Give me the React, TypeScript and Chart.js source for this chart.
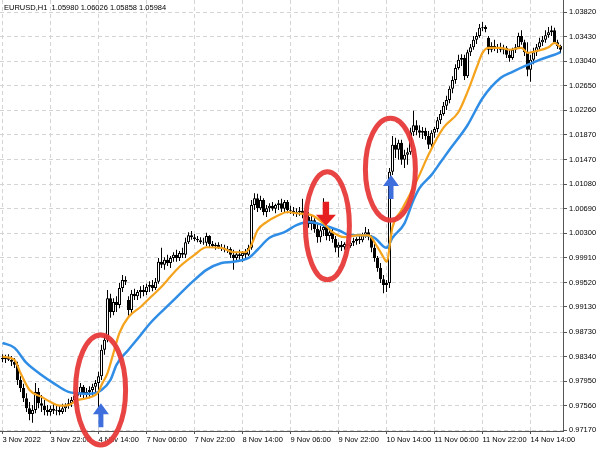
import React, { useEffect, useRef } from "react";
import { Chart, registerables } from "chart.js";

Chart.register(...registerables);

// ---------- data (EURUSD H1 candles, bar index 0 = 3 Nov 06:00) ----------
const opens = [
  0.9832, 0.9830, 0.9833, 0.9829, 0.9826, 0.9821, 0.9797, 0.9784, 0.9768, 0.9752,
  0.9743, 0.9749, 0.9778, 0.9760, 0.9756, 0.9749, 0.9746, 0.9751, 0.9748, 0.9749,
  0.9746, 0.9752, 0.9756, 0.9760, 0.9765, 0.9772, 0.9776, 0.9786, 0.9775, 0.9778,
  0.9781, 0.9786, 0.9792, 0.9803, 0.9845, 0.9861, 0.9927, 0.9905, 0.9921, 0.9916,
  0.9943, 0.9956, 0.9924, 0.9908, 0.9934, 0.9930, 0.9937, 0.9940, 0.9937, 0.9945,
  0.9948, 0.9943, 0.9953, 0.9985, 0.9980, 0.9988, 0.9983, 0.9991, 0.9996, 0.9991,
  0.9999, 0.9996, 1.0016, 1.0027, 1.0024, 1.0021, 1.0019, 1.0016, 1.0015, 1.0026,
  1.0013, 1.0010, 1.0012, 1.0008, 1.0007, 1.0004, 1.0005, 0.9996, 0.9991, 0.9997,
  0.9994, 0.9999, 0.9996, 1.0007, 1.0075, 1.0086, 1.0070, 1.0083, 1.0064, 1.0070,
  1.0074, 1.0069, 1.0075, 1.0078, 1.0069, 1.0080, 1.0067, 1.0066, 1.0062, 1.0064,
  1.0066, 1.0061, 1.0056, 1.0045, 1.0051, 1.0037, 1.0024, 1.0035, 1.0040, 1.0026,
  1.0032, 1.0021, 1.0007, 1.0012, 1.0008, 1.0013, 1.0010, 1.0015, 1.0018, 1.0021,
  1.0019, 1.0027, 1.0032, 1.0024, 1.0007, 0.9991, 0.9975, 0.9957, 0.9948, 0.9951,
  1.0128, 1.0171, 1.0163, 1.0174, 1.0147, 1.0155, 1.0159, 1.0191, 1.0202, 1.0194,
  1.0190, 1.0193, 1.0185, 1.0171, 1.0190, 1.0196, 1.0210, 1.0220, 1.0233, 1.0242,
  1.0260, 1.0274, 1.0293, 1.0306, 1.0309, 1.0280, 1.0318, 1.0326, 1.0338, 1.0344,
  1.0357, 1.0358, 1.0341, 1.0322, 1.0328, 1.0323, 1.0326, 1.0322, 1.0325, 1.0314,
  1.0309, 1.0322, 1.0326, 1.0344, 1.0334, 1.0318, 1.0290, 1.0306, 1.0318, 1.0326,
  1.0334, 1.0338, 1.0345, 1.0350, 1.0353, 1.0334, 1.0328,
];
const highs = [
  0.9838, 0.9837, 0.9838, 0.9835, 0.9832, 0.9826, 0.9803, 0.9791, 0.9776, 0.9762,
  0.9757, 0.9792, 0.9784, 0.9773, 0.9765, 0.9757, 0.9756, 0.9759, 0.9756, 0.9757,
  0.9759, 0.9760, 0.9767, 0.9770, 0.9776, 0.9781, 0.9792, 0.9789, 0.9784, 0.9787,
  0.9791, 0.9797, 0.9810, 0.9853, 0.9868, 0.9940, 0.9934, 0.9927, 0.9930, 0.9951,
  0.9964, 0.9962, 0.9930, 0.9940, 0.9942, 0.9940, 0.9946, 0.9948, 0.9950, 0.9954,
  0.9956, 0.9959, 0.9991, 1.0007, 0.9992, 0.9996, 0.9994, 1.0000, 1.0004, 1.0002,
  1.0007, 1.0023, 1.0032, 1.0034, 1.0029, 1.0026, 1.0024, 1.0023, 1.0031, 1.0027,
  1.0018, 1.0015, 1.0016, 1.0013, 1.0012, 1.0010, 1.0008, 1.0004, 1.0000, 1.0004,
  1.0002, 1.0005, 1.0012, 1.0083, 1.0094, 1.0093, 1.0090, 1.0086, 1.0075, 1.0078,
  1.0080, 1.0077, 1.0083, 1.0085, 1.0083, 1.0083, 1.0074, 1.0072, 1.0070, 1.0072,
  1.0085, 1.0067, 1.0064, 1.0058, 1.0054, 1.0045, 1.0042, 1.0086, 1.0048, 1.0039,
  1.0037, 1.0026, 1.0016, 1.0018, 1.0016, 1.0019, 1.0019, 1.0023, 1.0024, 1.0026,
  1.0031, 1.0040, 1.0037, 1.0027, 1.0013, 0.9994, 0.9983, 0.9964, 0.9956, 1.0134,
  1.0185, 1.0182, 1.0179, 1.0179, 1.0163, 1.0166, 1.0198, 1.0225, 1.0210, 1.0202,
  1.0199, 1.0198, 1.0193, 1.0194, 1.0199, 1.0215, 1.0226, 1.0239, 1.0249, 1.0264,
  1.0280, 1.0299, 1.0314, 1.0315, 1.0314, 1.0322, 1.0331, 1.0344, 1.0350, 1.0363,
  1.0366, 1.0361, 1.0344, 1.0334, 1.0338, 1.0331, 1.0333, 1.0330, 1.0328, 1.0322,
  1.0325, 1.0331, 1.0349, 1.0353, 1.0338, 1.0334, 1.0314, 1.0325, 1.0331, 1.0341,
  1.0344, 1.0353, 1.0358, 1.0360, 1.0357, 1.0338, 1.0330,
];
const lows = [
  0.9825, 0.9824, 0.9827, 0.9819, 0.9816, 0.9789, 0.9778, 0.9762, 0.9746, 0.9733,
  0.9729, 0.9744, 0.9752, 0.9746, 0.9741, 0.9740, 0.9740, 0.9743, 0.9741, 0.9741,
  0.9743, 0.9746, 0.9751, 0.9754, 0.9760, 0.9765, 0.9770, 0.9768, 0.9767, 0.9768,
  0.9772, 0.9778, 0.9754, 0.9797, 0.9837, 0.9857, 0.9896, 0.9900, 0.9905, 0.9911,
  0.9937, 0.9948, 0.9899, 0.9903, 0.9924, 0.9924, 0.9927, 0.9930, 0.9932, 0.9937,
  0.9938, 0.9940, 0.9950, 0.9975, 0.9972, 0.9978, 0.9975, 0.9985, 0.9985, 0.9986,
  0.9991, 0.9991, 1.0013, 1.0020, 1.0018, 1.0016, 1.0013, 1.0012, 1.0010, 1.0008,
  1.0007, 1.0004, 1.0005, 1.0002, 1.0000, 0.9999, 0.9991, 0.9972, 0.9985, 0.9988,
  0.9985, 0.9991, 0.9994, 1.0004, 1.0067, 1.0064, 1.0067, 1.0059, 1.0056, 1.0064,
  1.0066, 1.0062, 1.0067, 1.0064, 1.0064, 1.0062, 1.0061, 1.0058, 1.0056, 1.0058,
  1.0054, 1.0051, 1.0039, 1.0035, 1.0031, 1.0015, 1.0016, 1.0026, 1.0019, 1.0018,
  1.0015, 1.0000, 0.9992, 1.0002, 1.0004, 1.0005, 1.0007, 1.0010, 1.0012, 1.0013,
  1.0016, 1.0023, 1.0019, 1.0000, 0.9985, 0.9969, 0.9951, 0.9935, 0.9937, 0.9943,
  1.0123, 1.0150, 1.0147, 1.0139, 1.0134, 1.0139, 1.0155, 1.0185, 1.0186, 1.0182,
  1.0180, 1.0179, 1.0164, 1.0167, 1.0182, 1.0191, 1.0204, 1.0217, 1.0226, 1.0237,
  1.0253, 1.0268, 1.0290, 1.0296, 1.0274, 1.0277, 1.0312, 1.0322, 1.0331, 1.0341,
  1.0352, 1.0350, 1.0315, 1.0318, 1.0320, 1.0317, 1.0318, 1.0315, 1.0309, 1.0303,
  1.0306, 1.0317, 1.0323, 1.0330, 1.0312, 1.0280, 1.0271, 1.0299, 1.0312, 1.0322,
  1.0328, 1.0333, 1.0341, 1.0344, 1.0331, 1.0323, 1.0317,
];
const closes = [
  0.9830, 0.9833, 0.9829, 0.9826, 0.9821, 0.9797, 0.9784, 0.9768, 0.9752, 0.9743,
  0.9749, 0.9778, 0.9760, 0.9756, 0.9749, 0.9746, 0.9751, 0.9748, 0.9749, 0.9746,
  0.9752, 0.9756, 0.9760, 0.9765, 0.9772, 0.9776, 0.9786, 0.9775, 0.9778, 0.9781,
  0.9786, 0.9792, 0.9803, 0.9845, 0.9861, 0.9927, 0.9905, 0.9921, 0.9916, 0.9943,
  0.9956, 0.9953, 0.9908, 0.9934, 0.9930, 0.9937, 0.9940, 0.9937, 0.9945, 0.9948,
  0.9943, 0.9953, 0.9985, 0.9980, 0.9988, 0.9983, 0.9991, 0.9996, 0.9991, 0.9999,
  0.9996, 1.0016, 1.0027, 1.0024, 1.0021, 1.0019, 1.0016, 1.0015, 1.0026, 1.0013,
  1.0010, 1.0012, 1.0008, 1.0007, 1.0004, 1.0005, 0.9996, 0.9991, 0.9997, 0.9994,
  0.9999, 0.9996, 1.0007, 1.0075, 1.0086, 1.0070, 1.0083, 1.0064, 1.0070, 1.0074,
  1.0069, 1.0075, 1.0078, 1.0069, 1.0080, 1.0067, 1.0066, 1.0062, 1.0064, 1.0066,
  1.0061, 1.0056, 1.0045, 1.0051, 1.0037, 1.0024, 1.0035, 1.0040, 1.0026, 1.0032,
  1.0021, 1.0007, 1.0012, 1.0008, 1.0013, 1.0010, 1.0015, 1.0018, 1.0021, 1.0019,
  1.0027, 1.0032, 1.0024, 1.0007, 0.9991, 0.9975, 0.9957, 0.9948, 0.9951, 1.0128,
  1.0171, 1.0163, 1.0174, 1.0147, 1.0155, 1.0159, 1.0191, 1.0202, 1.0194, 1.0190,
  1.0193, 1.0185, 1.0171, 1.0190, 1.0196, 1.0210, 1.0220, 1.0233, 1.0242, 1.0260,
  1.0274, 1.0293, 1.0306, 1.0309, 1.0280, 1.0318, 1.0326, 1.0338, 1.0344, 1.0357,
  1.0358, 1.0355, 1.0322, 1.0328, 1.0323, 1.0326, 1.0322, 1.0325, 1.0314, 1.0309,
  1.0322, 1.0326, 1.0344, 1.0334, 1.0318, 1.0290, 1.0306, 1.0318, 1.0326, 1.0334,
  1.0338, 1.0345, 1.0350, 1.0353, 1.0334, 1.0328, 1.0322,
];

// fast (orange) moving average, read at these bar indices
const fastMaBars = [
  0, 4, 6, 9, 13, 16, 19, 22, 25, 28, 32, 33, 35, 37, 39, 42, 46, 49, 53, 55,
  59, 64, 68, 73, 77, 81, 83, 85, 88, 92, 95, 98, 103, 107, 110, 114, 118, 122, 125, 127,
  128, 130, 133, 136, 139, 142, 147, 152, 155, 158, 160, 162, 166, 169, 173, 175, 178, 182, 184, 186,
];
const fastMaValues = [
  0.9834, 0.9829, 0.9808, 0.9781, 0.9770, 0.9762, 0.9756, 0.9757, 0.9765, 0.9768,
  0.9778, 0.9789, 0.9808, 0.9840, 0.9872, 0.9897, 0.9913, 0.9927, 0.9945, 0.9956,
  0.9977, 0.9996, 1.0008, 1.0007, 1.0000, 1.0000, 1.0012, 1.0035, 1.0048, 1.0059,
  1.0064, 1.0062, 1.0059, 1.0046, 1.0032, 1.0024, 1.0027, 1.0027, 1.0008, 0.9992,
  0.9985, 1.0040, 1.0067, 1.0094, 1.0123, 1.0155, 1.0198, 1.0223, 1.0255, 1.0293,
  1.0317, 1.0325, 1.0325, 1.0322, 1.0325, 1.0317, 1.0320, 1.0326, 1.0333, 1.0326,
];

// slow (blue) moving average
const slowMaBars = [
  0, 4, 8, 13, 17, 22, 25, 29, 33, 36, 38, 42, 46, 49, 56, 64, 68, 73, 77, 82,
  85, 89, 94, 98, 102, 107, 112, 116, 120, 124, 128, 130, 134, 137, 139, 143, 146, 149, 155, 160,
  166, 170, 175, 179, 184, 186,
];
const slowMaValues = [
  0.9856, 0.9848, 0.9824, 0.9805, 0.9792, 0.9778, 0.9776, 0.9775, 0.9781, 0.9797,
  0.9821, 0.9845, 0.9868, 0.9886, 0.9919, 0.9956, 0.9972, 0.9983, 0.9985, 0.9991,
  1.0004, 1.0023, 1.0032, 1.0043, 1.0048, 1.0043, 1.0035, 1.0027, 1.0027, 1.0023,
  1.0007, 1.0023, 1.0046, 1.0083, 1.0102, 1.0123, 1.0143, 1.0163, 1.0202, 1.0245,
  1.0277, 1.0287, 1.0298, 1.0306, 1.0314, 1.0318,
];

const xTickBars = [0, 16, 32, 48, 64, 80, 96, 112, 128, 144, 160, 176];
const xTickLabels = [
  "3 Nov 2022", "3 Nov 22:00", "4 Nov 14:00", "7 Nov 06:00", "7 Nov 22:00", "8 Nov 14:00",
  "9 Nov 06:00", "9 Nov 22:00", "10 Nov 14:00", "11 Nov 06:00", "11 Nov 22:00", "14 Nov 14:00",
];
const yTickLabels = [
  "0.97170", "0.97560", "0.97950", "0.98340", "0.98730", "0.99130", "0.99520", "0.99910", "1.00300",
  "1.00690", "1.01080", "1.01470", "1.01870", "1.02260", "1.02650", "1.03040", "1.03430", "1.03820",
];
const titleText = "EURUSD,H1  1.05980 1.06026 1.05858 1.05984";

// ---------- styling ----------
const FONT = '"Liberation Sans", Arial, sans-serif';
const ORANGE = "#f5a31c";
const BLUE = "#2f8de6";

// annotation marks (bar index / price anchors; sizes in px)
const ellipseMarks = [
  { bar: 32.7, price: 0.9781, rx: 25, ry: 55 },
  { bar: 108.3, price: 1.0042, rx: 22, ry: 54 },
  { bar: 129.3, price: 1.0132, rx: 25, ry: 51 },
];
const arrowMarks = [
  { bar: 32.8, price: 0.976, dir: "up", color: "#3f6fdc", hw: 8, sw: 2.5 },
  { bar: 107.8, price: 1.0042, dir: "down", color: "#e51f1f", hw: 10, sw: 3.2 },
  { bar: 129.5, price: 1.0123, dir: "up", color: "#3f6fdc", hw: 8, sw: 2.5 },
];

const overlayPlugin = {
  id: "overlay",
  beforeDraw(chart: any) {
    const ctx = chart.ctx;
    ctx.save();
    ctx.fillStyle = "#ffffff";
    ctx.fillRect(0, 0, chart.width, chart.height);
    ctx.restore();
  },
  afterDraw(chart: any) {
    const ctx = chart.ctx;
    const xs = chart.scales.x;
    const ys = chart.scales.y;
    ctx.save();
    // title
    ctx.font = `7.5px ${FONT}`;
    ctx.fillStyle = "#000";
    ctx.textBaseline = "middle";
    ctx.textAlign = "left";
    ctx.fillText(titleText, 4, 7.5);
    // ellipses
    ctx.strokeStyle = "rgba(232,58,58,0.95)";
    ctx.lineWidth = 5;
    for (const e of ellipseMarks) {
      const cx = xs.getPixelForValue(e.bar);
      const cy = ys.getPixelForValue(e.price);
      ctx.beginPath();
      ctx.ellipse(cx, cy, e.rx, e.ry, 0, 0, Math.PI * 2);
      ctx.stroke();
    }
    // arrows
    for (const a of arrowMarks) {
      const cx = xs.getPixelForValue(a.bar);
      const ty = ys.getPixelForValue(a.price);
      const s = a.dir === "up" ? 1 : -1;
      const head = 11;
      const shaft = 13;
      ctx.fillStyle = a.color;
      ctx.beginPath();
      ctx.moveTo(cx, ty);
      ctx.lineTo(cx - a.hw, ty + s * head);
      ctx.lineTo(cx - a.sw, ty + s * head);
      ctx.lineTo(cx - a.sw, ty + s * (head + shaft));
      ctx.lineTo(cx + a.sw, ty + s * (head + shaft));
      ctx.lineTo(cx + a.sw, ty + s * head);
      ctx.lineTo(cx + a.hw, ty + s * head);
      ctx.closePath();
      ctx.fill();
    }
    ctx.restore();
  },
};

export default function App() {
  const ref = useRef<HTMLCanvasElement>(null);

  useEffect(() => {
    document.body.style.margin = "0";
    const canvas = ref.current;
    if (!canvas) return;
    const idx = closes.map((_, i) => i);

    const chart = new Chart(canvas, {
      type: "bar",
      data: {
        datasets: [
          {
            type: "line",
            label: "fast",
            data: fastMaBars.map((b, k) => ({ x: b, y: fastMaValues[k] })),
            borderColor: ORANGE,
            borderWidth: 2.2,
            pointRadius: 0,
            cubicInterpolationMode: "monotone",
            order: 0,
          } as any,
          {
            type: "line",
            label: "slow",
            data: slowMaBars.map((b, k) => ({ x: b, y: slowMaValues[k] })),
            borderColor: BLUE,
            borderWidth: 2.5,
            pointRadius: 0,
            cubicInterpolationMode: "monotone",
            order: 1,
          } as any,
          {
            type: "bar",
            label: "body",
            data: idx.map((i) => ({ x: i, y: [opens[i], closes[i]] })),
            backgroundColor: (c: any) =>
              closes[c.dataIndex] >= opens[c.dataIndex] ? "#ffffff" : "#000000",
            borderColor: "#000000",
            borderWidth: 1,
            borderSkipped: false,
            barThickness: 3,
            grouped: false,
            inflateAmount: 0,
            order: 2,
          } as any,
          {
            type: "bar",
            label: "wick",
            data: idx.map((i) => ({ x: i, y: [lows[i], highs[i]] })),
            backgroundColor: "#000000",
            borderWidth: 0,
            barThickness: 1,
            grouped: false,
            inflateAmount: 0,
            order: 3,
          } as any,
        ],
      },
      options: {
        responsive: false,
        animation: false,
        layout: { padding: 0 },
        plugins: { legend: { display: false }, tooltip: { enabled: false }, title: { display: false } },
        scales: {
          x: {
            type: "linear",
            position: "bottom",
            min: -2.5 / 3,
            max: -2.5 / 3 + 563 / 3,
            offset: false,
            afterBuildTicks: (axis: any) => {
              axis.ticks = xTickBars.map((v) => ({ value: v }));
            },
            afterFit: (axis: any) => {
              axis.height = 19;
              axis.paddingLeft = 0;
              axis.paddingRight = 0;
            },
            ticks: {
              autoSkip: false,
              maxRotation: 0,
              minRotation: 0,
              align: "start",
              padding: 1,
              color: "#000",
              font: { family: FONT, size: 7.5 },
              callback: (_v: any, i: number) => xTickLabels[i],
            },
            grid: {
              color: "#d4d4d4",
              lineWidth: 1,
              offset: false,
              tickLength: 3,
              tickColor: "#555",
              tickBorderDash: [1, 0],
            },
            border: { display: true, color: "#555", width: 1, dash: [4, 3] },
          } as any,
          y: {
            type: "linear",
            position: "right",
            min: 0.97158,
            max: 1.04011,
            afterBuildTicks: (axis: any) => {
              axis.ticks = yTickLabels.map((l) => ({ value: parseFloat(l) }));
            },
            afterFit: (axis: any) => {
              axis.width = 37;
              axis.paddingTop = 0;
              axis.paddingBottom = 0;
            },
            ticks: {
              padding: 2,
              color: "#000",
              font: { family: FONT, size: 7.5 },
              callback: (_v: any, i: number) => yTickLabels[i],
            },
            grid: {
              color: "#d4d4d4",
              lineWidth: 1,
              tickLength: 4,
              tickColor: "#555",
              tickBorderDash: [1, 0],
            },
            border: { display: true, color: "#555", width: 1, dash: [4, 3] },
          } as any,
        },
      },
      plugins: [overlayPlugin],
    } as any);

    return () => chart.destroy();
  }, []);

  return (
    <div style={{ width: 600, height: 450 }}>
      <canvas ref={ref} width={600} height={450} style={{ display: "block" }} />
    </div>
  );
}
